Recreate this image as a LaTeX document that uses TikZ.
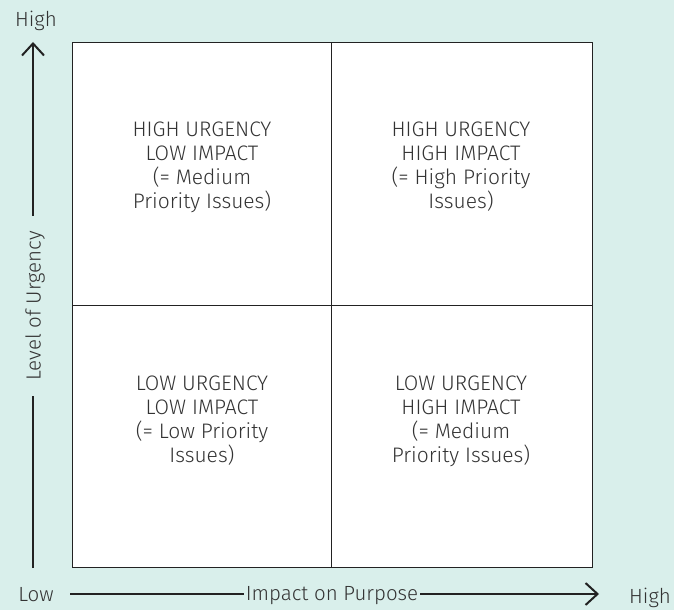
\documentclass[tikz,border=0pt]{standalone}
\usepackage{fontspec}
\setmainfont{Fira Sans Light}
\usetikzlibrary{arrows.meta}
\definecolor{bg}{HTML}{D9EFEB}
\definecolor{txt}{HTML}{333333}
\definecolor{ln}{HTML}{222222}
\begin{document}
\begin{tikzpicture}[x=1pt,y=-1pt,
  quad/.style={text=txt,align=center,font=\fontsize{21}{24}\selectfont},
  axlab/.style={text=txt,font=\fontsize{20.5}{24}\selectfont},
  axline/.style={draw=ln,line width=2pt},
  axarrow/.style={axline,-{Straight Barb[length=12pt,width=22pt,line width=2pt]}}]
\useasboundingbox[fill=bg] (0,0) rectangle (674,610);
\draw[fill=white,draw=ln,line width=1pt] (72,43) rectangle (592,567);
\draw[draw=ln,line width=0.8pt] (331,43) -- (331,567);
\draw[draw=ln,line width=0.8pt] (72,305) -- (592,305);
\node[quad] (tl) at (202,167) {HIGH URGENCY\\LOW IMPACT\\(= Medium\\Priority Issues)};
\node[quad] (tr) at (461,167) {HIGH URGENCY\\HIGH IMPACT\\(= High Priority\\Issues)};
\node[quad] (bl) at (202,421) {LOW URGENCY\\LOW IMPACT\\(= Low Priority\\Issues)};
\node[quad] (br) at (461,421) {LOW URGENCY\\HIGH IMPACT\\(= Medium\\Priority Issues)};
\coordinate (vs) at (33,568);
\coordinate (ve) at (33,42);
\coordinate (hs) at (70,594);
\coordinate (he) at (599,594);
\draw[axarrow] (vs) -- (ve);
\draw[axarrow] (hs) -- (he);
\node[axlab,fill=bg,rotate=90,inner xsep=15pt,inner ysep=6pt] (ylab) at (35,306) {Level of Urgency};
\node[axlab,fill=bg,inner sep=2pt] (xlab) at (332,596) {Impact on Purpose};
\node[axlab] (yhigh) at (36,21) {High};
\node[axlab] (ylow) at (36,595) {Low};
\node[axlab] (xhigh) at (650,598) {High};
\end{tikzpicture}
\end{document}
